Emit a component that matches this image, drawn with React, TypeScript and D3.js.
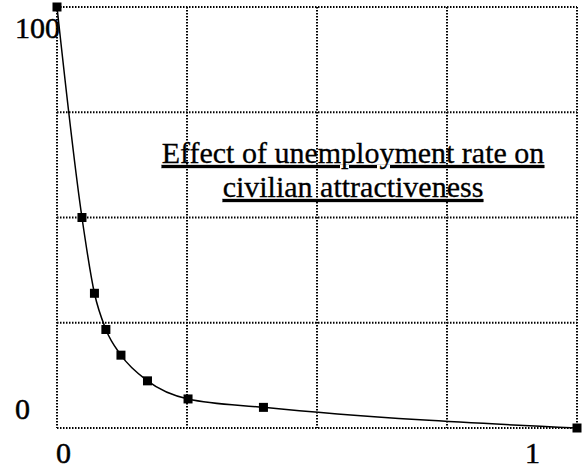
import React, { useEffect, useRef } from 'react';
import * as d3 from 'd3';

// unemployment rate (0..1) vs civilian attractiveness (0..100)
const rates = [0, 0.048, 0.072, 0.094, 0.123, 0.174, 0.252, 0.397, 1];
const attractiveness = [100, 50, 32, 23.4, 17.3, 11.2, 6.9, 4.9, 0];
const gridX = [0, 0.25, 0.5, 0.75, 1];
const gridY = [0, 25, 50, 75, 100];
const xTicks = [0, 1];
const yTicks = [0, 100];
const titleLines = ['Effect of unemployment rate on', 'civilian attractiveness'];

const App: React.FC = () => {
  const svgRef = useRef<SVGSVGElement>(null);

  useEffect(() => {
    if (!svgRef.current) return;
    document.body.style.margin = '0';

    const width = 584;
    const height = 472;
    const margin = { top: 7, right: 7, bottom: 44, left: 57 };
    const font = "'Times New Roman', 'Liberation Serif', Times, serif";

    const svg = d3.select(svgRef.current);
    svg.selectAll('*').remove();

    const x = d3.scaleLinear().domain([0, 1]).range([margin.left, width - margin.right]);
    const y = d3.scaleLinear().domain([0, 100]).range([height - margin.bottom, margin.top]);

    const data = rates.map((r, i) => ({ r, v: attractiveness[i] }));

    // dotted grid incl. frame
    const grid = svg.append('g')
      .attr('stroke', '#000')
      .attr('stroke-width', 2)
      .attr('stroke-dasharray', '1.5,1.5')
      .attr('fill', 'none');

    grid.selectAll('.vx')
      .data(gridX)
      .enter().append('line')
      .attr('x1', d => x(d)).attr('x2', d => x(d))
      .attr('y1', y(100)).attr('y2', y(0));

    grid.selectAll('.hy')
      .data(gridY)
      .enter().append('line')
      .attr('y1', d => y(d)).attr('y2', d => y(d))
      .attr('x1', x(0)).attr('x2', x(1));

    // curve
    const line = d3.line<{ r: number; v: number }>()
      .x(d => x(d.r))
      .y(d => y(d.v))
      .curve(d3.curveMonotoneX);

    svg.append('path')
      .datum(data)
      .attr('d', line)
      .attr('fill', 'none')
      .attr('stroke', '#000')
      .attr('stroke-width', 1.5);

    svg.selectAll('.marker')
      .data(data)
      .enter().append('rect')
      .attr('x', d => x(d.r) - 4.5)
      .attr('y', d => y(d.v) - 4.5)
      .attr('width', 9)
      .attr('height', 9)
      .attr('fill', '#000');

    const textStyle = (sel: d3.Selection<SVGTextElement, any, any, any>) =>
      sel
        .style('font-family', font)
        .attr('font-size', 30)
        .attr('fill', '#000')
        .attr('stroke', '#000')
        .attr('stroke-width', 0.5);

    // tick labels
    svg.selectAll('.ylab')
      .data(yTicks)
      .enter().append('text')
      .attr('x', 15)
      .attr('y', d => (d === 100 ? y(d) + 31 : y(d) - 9))
      .call(textStyle)
      .text(d => String(d));

    svg.selectAll('.xlab')
      .data(xTicks)
      .enter().append('text')
      .attr('x', d => (d === 0 ? x(d) - 1 : x(d) - 37))
      .attr('y', height - 9)
      .attr('text-anchor', d => (d === 0 ? 'start' : 'end'))
      .call(textStyle)
      .text(d => String(d));

    // title
    svg.selectAll('.title')
      .data(titleLines)
      .enter().append('text')
      .attr('x', 353)
      .attr('y', (d, i) => 163 + i * 34)
      .attr('text-anchor', 'middle')
      .call(textStyle)
      .attr('stroke-width', 0.3)
      .style('text-decoration', 'underline')
      .text(d => d);
  }, []);

  return (
    <svg
      ref={svgRef}
      width={584}
      height={472}
      style={{ display: 'block', background: '#fff' }}
    />
  );
};

export default App;
